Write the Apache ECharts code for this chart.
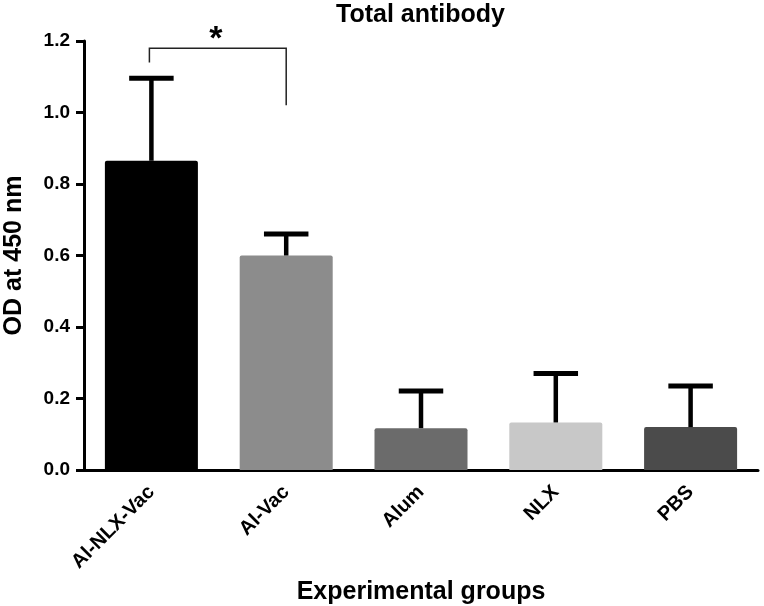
<!DOCTYPE html>
<html>
<head>
<meta charset="utf-8">
<script src="https://cdn.jsdelivr.net/npm/echarts@6/dist/echarts.min.js"></script>
<style>html,body{margin:0;padding:0;background:#fff}#c{width:764px;height:606px}</style>
</head>
<body>
<div id="c"></div>
<script>
var categories = ['Al-NLX-Vac', 'Al-Vac', 'Alum', 'NLX', 'PBS'];
var means = [0.865, 0.60, 0.117, 0.133, 0.12];
var errors = [0.231, 0.06, 0.104, 0.137, 0.115];
var barColors = ['#000000', '#8c8c8c', '#6b6b6b', '#c8c8c8', '#4b4b4b'];
var yTicks = [0, 0.2, 0.4, 0.6, 0.8, 1.0, 1.2];
var bracketFrom = 0, bracketTo = 1;
var bracketTop = 1.18, bracketLeftEnd = 1.14, bracketRightEnd = 1.02, starLevel = 1.205;
var starText = '*';

var FONT = "'Liberation Sans', Arial, sans-serif";
var chart = echarts.init(document.getElementById('c'));

var option = {
  animation: false,
  backgroundColor: '#fff',
  title: {
    text: 'Total antibody', left: 336, top: 3, padding: 0,
    textStyle: { fontFamily: FONT, fontWeight: 'bold', fontSize: 25, color: '#000' }
  },
  grid: { left: 84, right: 6, top: 41, bottom: 136, containLabel: false, outerBoundsMode: 'none' },
  xAxis: {
    type: 'category', data: categories,
    name: 'Experimental groups', nameLocation: 'middle', nameGap: 102,
    nameTextStyle: { fontFamily: FONT, fontWeight: 'bold', fontSize: 25, color: '#000' },
    axisLine: { lineStyle: { color: '#000', width: 3 } },
    axisTick: { alignWithLabel: true, length: 8, lineStyle: { color: '#000', width: 3 } },
    axisLabel: { rotate: 45, margin: 19, fontFamily: FONT, fontWeight: 'bold', fontSize: 20, color: '#000', interval: 0 }
  },
  yAxis: {
    type: 'value', min: yTicks[0], max: yTicks[yTicks.length - 1], interval: 0.2,
    name: 'OD at 450 nm', nameLocation: 'middle', nameGap: 57,
    nameTextStyle: { fontFamily: FONT, fontWeight: 'bold', fontSize: 25, color: '#000' },
    axisLine: { show: true, lineStyle: { color: '#000', width: 3 } },
    axisTick: { show: true, length: 8, lineStyle: { color: '#000', width: 3 } },
    splitLine: { show: false },
    axisLabel: { margin: 14, fontFamily: FONT, fontWeight: 'bold', fontSize: 19, color: '#000',
      formatter: function (v) { return v.toFixed(1); } }
  },
  series: [
    {
      type: 'bar', barWidth: '69%',
      data: means.map(function (v, i) {
        return { value: v, itemStyle: { color: barColors[i], borderRadius: [2, 2, 0, 0] } };
      }),
      z: 2
    },
    {
      type: 'custom', z: 3,
      data: means.map(function (v, i) { return [i, v, v + errors[i]]; }),
      renderItem: function (params, api) {
        var base = api.coord([api.value(0), api.value(1)]);
        var top = api.coord([api.value(0), api.value(2)]);
        var half = api.size([1, 0])[0] * 0.165;
        return {
          type: 'group',
          children: [
            { type: 'line', shape: { x1: top[0], y1: base[1], x2: top[0], y2: top[1] },
              style: { stroke: '#000', lineWidth: 4.5 } },
            { type: 'line', shape: { x1: top[0] - half, y1: top[1], x2: top[0] + half, y2: top[1] },
              style: { stroke: '#000', lineWidth: 5 } }
          ]
        };
      }
    },
    {
      type: 'custom', z: 4,
      data: [[bracketFrom, bracketTo]],
      renderItem: function (params, api) {
        var a = api.value(0), b = api.value(1);
        var p1 = api.coord([a, bracketLeftEnd]);
        var p2 = api.coord([a, bracketTop]);
        var p3 = api.coord([b, bracketTop]);
        var p4 = api.coord([b, bracketRightEnd]);
        var sy = api.coord([a, starLevel])[1];
        var sx = (p2[0] + p3[0]) / 2;
        return {
          type: 'group',
          children: [
            { type: 'polyline', shape: { points: [[p1[0] - 2, p1[1]], [p2[0] - 2, p2[1]], [p3[0], p3[1]], [p4[0], p4[1]]] },
              style: { stroke: '#222', lineWidth: 1.5, fill: null } },
            { type: 'text', x: sx - 3, y: sy,
              style: { text: starText, fontFamily: FONT, fontWeight: 'bold', fontSize: 34, fill: '#000',
                align: 'center', verticalAlign: 'middle' } }
          ]
        };
      }
    }
  ]
};
chart.setOption(option);
</script>
</body>
</html>
